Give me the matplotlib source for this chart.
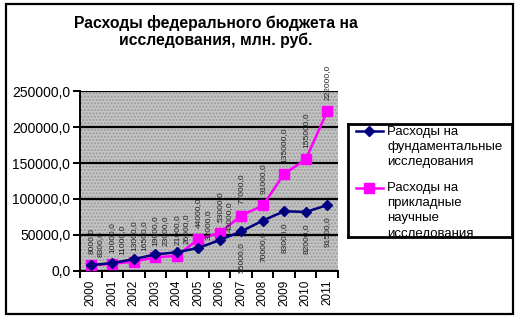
import matplotlib
matplotlib.use("Agg")
import matplotlib.pyplot as plt
from matplotlib.patches import Rectangle
import numpy as np

plt.rcParams['font.family'] = ['Liberation Sans', 'DejaVu Sans']

# data (млн. руб.)
years = ['2000', '2001', '2002', '2003', '2004', '2005',
         '2006', '2007', '2008', '2009', '2010', '2011']
fundamental = [8300, 11000, 16500, 23000, 26000, 32000,
               43000, 55000, 70000, 83000, 82000, 91500]
applied = [8000, 10000, 13000, 19000, 21000, 44000,
           53000, 77000, 91000, 135000, 155000, 222000]
yticks = [0, 50000, 100000, 150000, 200000, 250000]

name_fund = 'Расходы на\nфундаментальные\nисследования'
name_appl = 'Расходы на\nприкладные\nнаучные\nисследования'

navy = '#000080'
pink = '#ff00ff'

W, H = 517, 319
fig = plt.figure(figsize=(W / 100, H / 100), dpi=100)

# outer chart border
fig.patches.append(Rectangle((6 / W, 5 / H), 507 / W, 310 / H, transform=fig.transFigure,
                             fill=False, edgecolor='black', linewidth=1.6))

fig.text(216 / W, 1 - 23 / H, 'Расходы федерального бюджета на', ha='center', va='center',
         fontsize=11.3, fontweight='bold')
fig.text(216 / W, 1 - 40 / H, 'исследования, млн. руб.', ha='center', va='center',
         fontsize=11.3, fontweight='bold')

ax = fig.add_axes([80 / W, 48 / H, 258 / W, 180 / H])
ax.set_facecolor('#c4c4c4')
ax.add_patch(Rectangle((0, 0), 1, 1, transform=ax.transAxes, facecolor='none',
                       edgecolor='#9a9a9a', hatch='.....', linewidth=0, zorder=0))

x = np.arange(len(years))
ax.plot(x, fundamental, color=navy, lw=1.8, marker='D', ms=5.5, zorder=4)
ax.plot(x, applied, color=pink, lw=1.8, marker='s', ms=7, zorder=3)


def fmt(v):
    return f'{v:.1f}'.replace('.', ',')


# vertical data labels like in the original
for i in range(len(years)):
    ax.annotate(fmt(applied[i]), (x[i], applied[i]),
                xytext=(0, 8), textcoords='offset points', rotation=90,
                ha='center', va='bottom', fontsize=6, color='#202020',
                annotation_clip=False)
    if i < 7:
        ax.annotate(fmt(fundamental[i]), (x[i], fundamental[i]),
                    xytext=(7, 6), textcoords='offset points', rotation=90,
                    ha='center', va='bottom', fontsize=6, color='#202020',
                    annotation_clip=False)
    else:
        ax.annotate(fmt(fundamental[i]), (x[i], fundamental[i]),
                    xytext=(0, -8), textcoords='offset points', rotation=90,
                    ha='center', va='top', fontsize=6, color='#202020',
                    annotation_clip=False)

ax.set_ylim(0, 250000)
ax.set_yticks(yticks)
ax.set_yticklabels([fmt(v) for v in yticks], fontsize=10)
ax.yaxis.grid(True, color='black', linewidth=1.6)
ax.set_axisbelow(True)

ax.set_xlim(-0.5, len(years) - 0.5)
ax.set_xticks(np.arange(len(years) + 1) - 0.5)
ax.set_xticklabels([])
ax.set_xticks(x, minor=True)
ax.set_xticklabels(years, minor=True, rotation=90, fontsize=8.5)
ax.tick_params(axis='x', which='minor', length=0, pad=6)
ax.tick_params(axis='x', which='major', length=5, width=1.4, direction='out')
ax.tick_params(axis='y', length=5, width=1.4, direction='out', pad=2)

for s in ['top', 'right']:
    ax.spines[s].set_visible(False)
for s in ['left', 'bottom']:
    ax.spines[s].set_linewidth(1.4)

# legend box, drawn in its own clipped axes
lg = fig.add_axes([348 / W, 82 / H, 164 / W, 113 / H])
lg.set_xlim(0, 164)
lg.set_ylim(113, 0)
lg.set_xticks([])
lg.set_yticks([])
lg.patch.set_facecolor('white')
for s in lg.spines.values():
    s.set_linewidth(2)
lg.plot([8, 35], [7, 7], color=navy, lw=1.8)
lg.plot([21], [7], color=navy, marker='D', ms=5.5)
lg.plot([8, 35], [64, 64], color=pink, lw=1.8)
lg.plot([21], [64], color=pink, marker='s', ms=7)
lg.text(39, 1.5, name_fund, va='top', ha='left', fontsize=9.5, linespacing=1.36,
        clip_on=True)
lg.text(39, 58, name_appl, va='top', ha='left', fontsize=9.5, linespacing=1.36,
        clip_on=True)

fig.savefig('out.png', dpi=100)
